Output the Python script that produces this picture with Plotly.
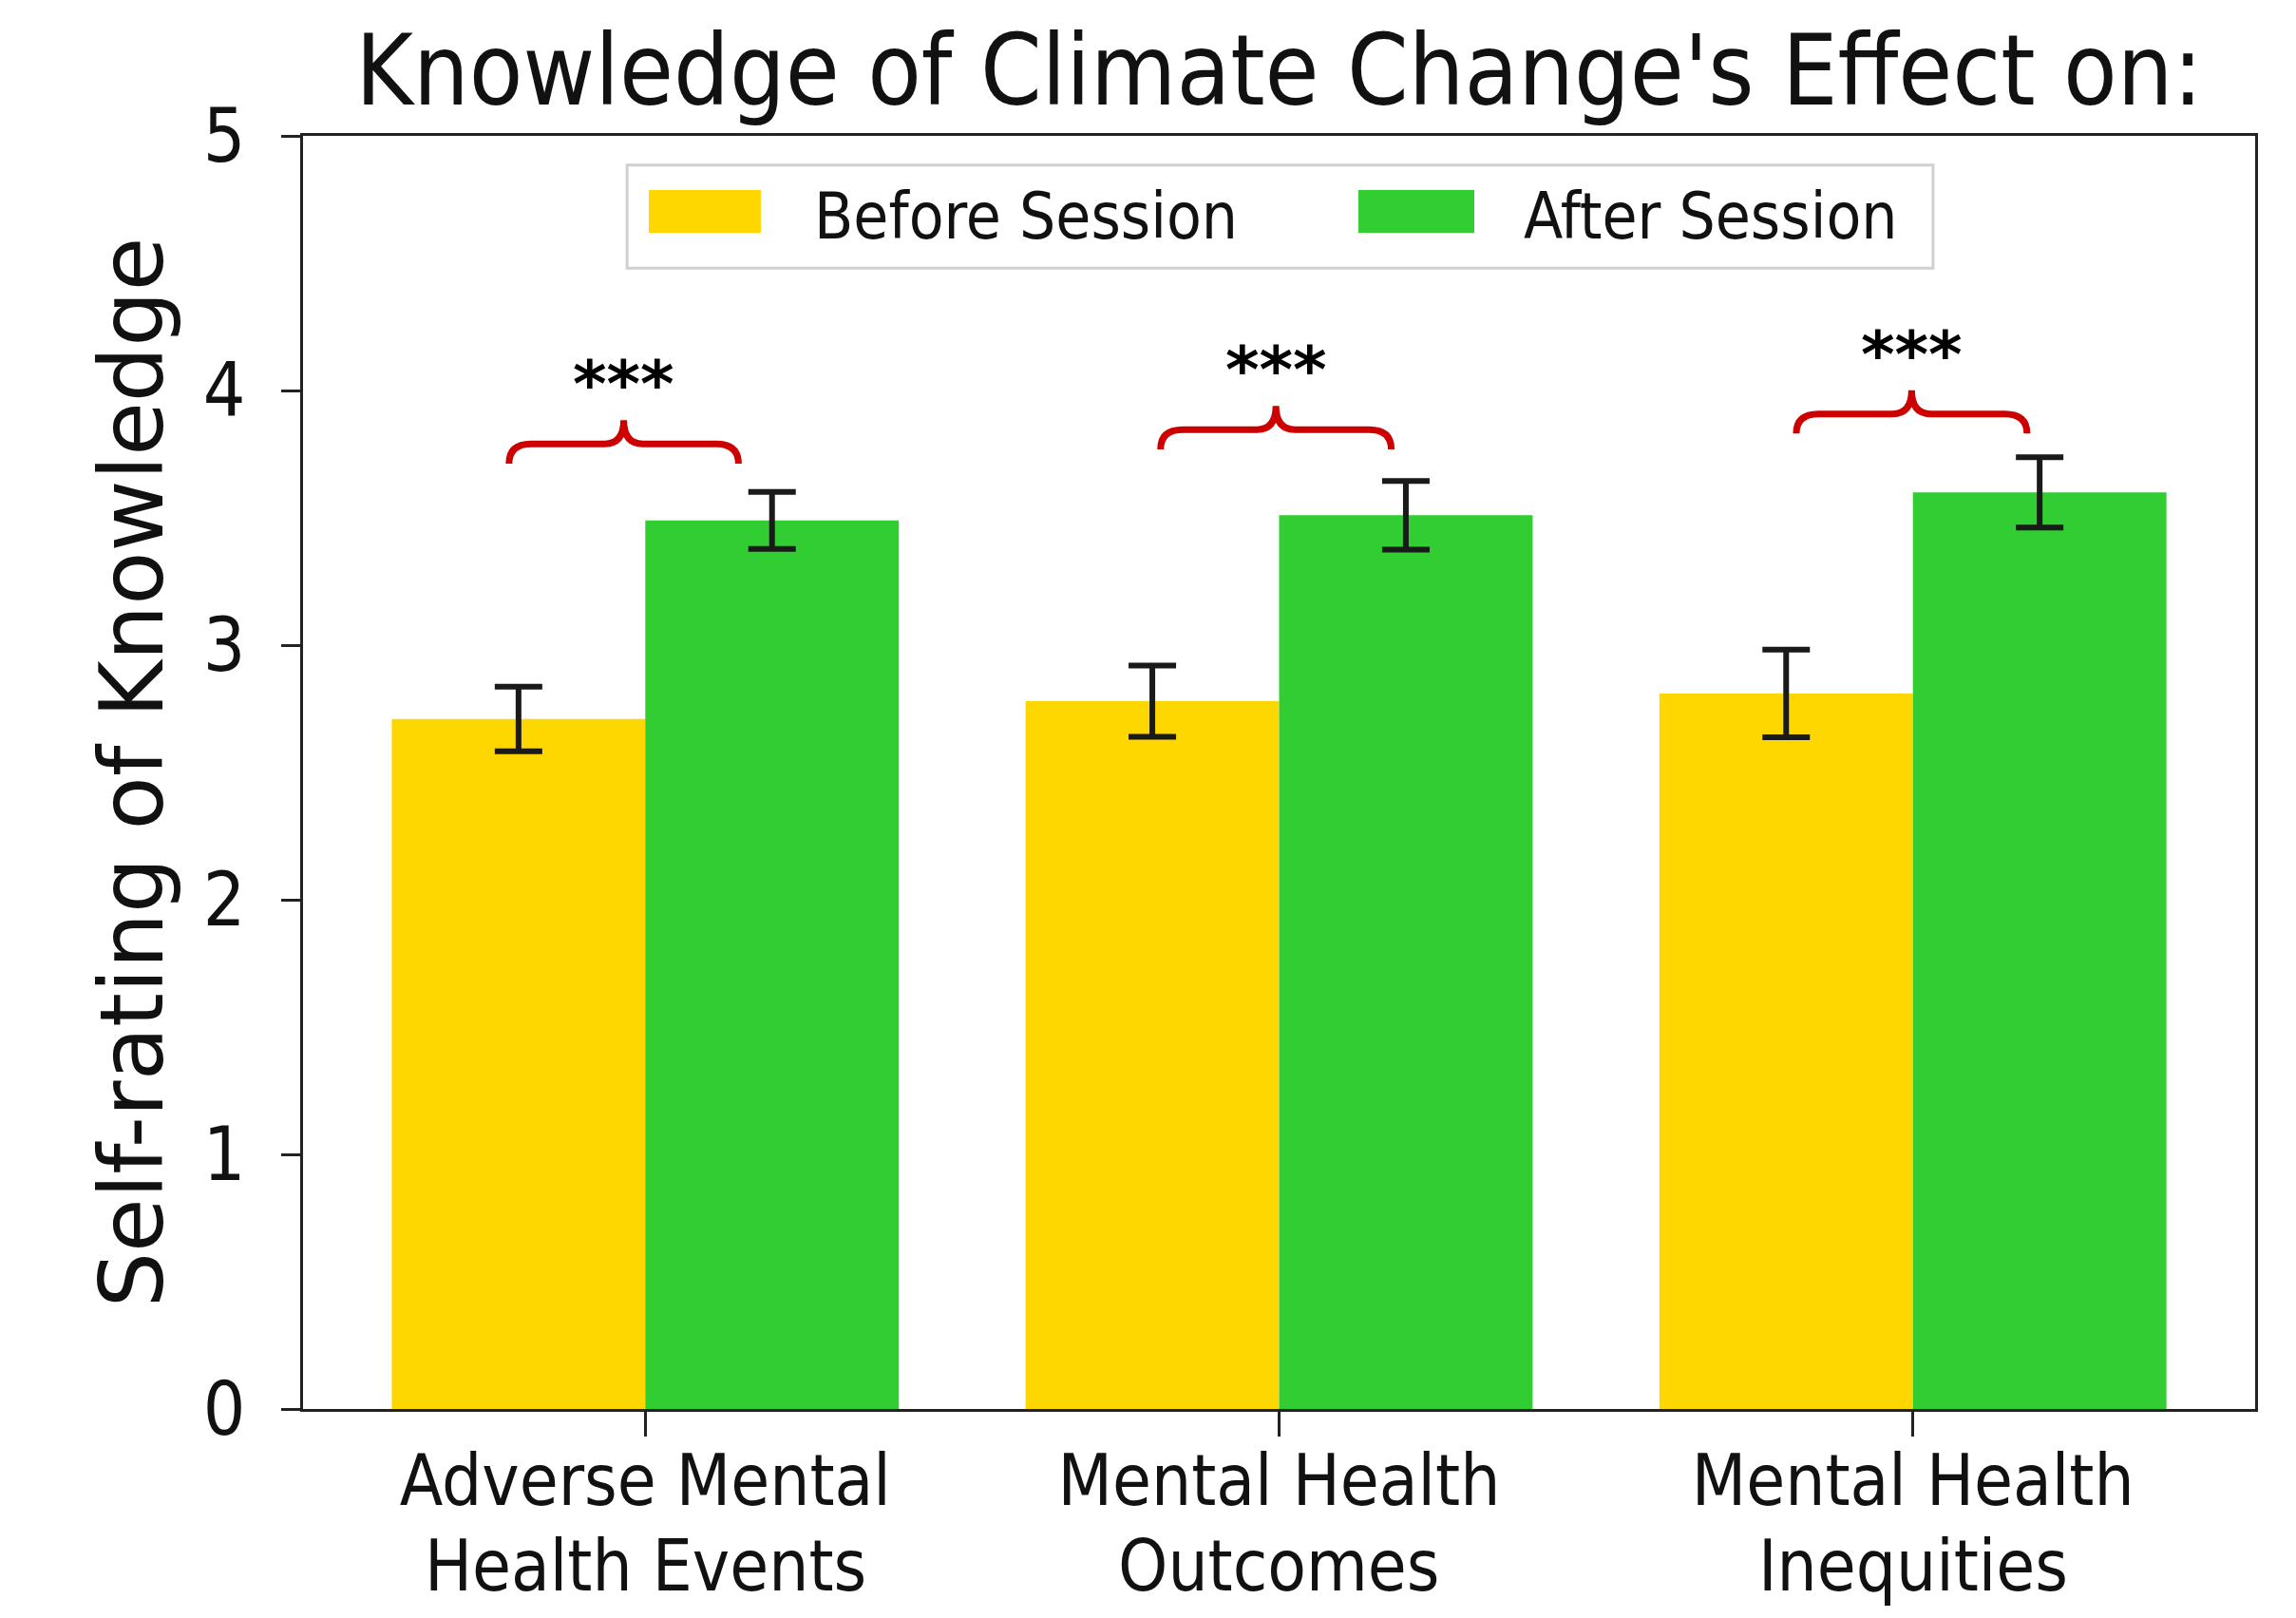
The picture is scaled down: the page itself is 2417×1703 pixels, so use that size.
import plotly.graph_objects as go

# ---------------- data ----------------
categories = ["Adverse Mental<br>Health Events", "Mental Health<br>Outcomes", "Mental Health<br>Inequities"]
cat_pos = [0, 1, 2]
series_names = ["Before Session", "After Session"]
before_vals = [2.71, 2.78, 2.81]
before_err = [0.127, 0.14, 0.172]
after_vals = [3.49, 3.51, 3.60]
after_err = [0.112, 0.135, 0.138]
y_ticks = [0, 1, 2, 3, 4, 5]
sig_labels = ["***", "***", "***"]
brace_left = [-0.215, 0.813, 1.816]
brace_right = [0.147, 1.177, 2.18]
brace_base = [3.713, 3.769, 3.831]

# ---------------- style ----------------
# page body has an 8px default margin, so the figure is 16px smaller than the window
W, H = 2401, 1687
ML, MR, MT, MB = 311, 35, 135, 212
FONT = "DejaVu Sans Condensed, DejaVu Sans, sans-serif"
FONT_N = "DejaVu Sans, sans-serif"
YELLOW = "#FFD700"
GREEN = "#32CD32"
RED = "#CC0000"
TICK_SIZE = 74

fig = go.Figure()
fig.add_trace(go.Bar(
    x=cat_pos, y=before_vals, name=series_names[0], marker=dict(color=YELLOW, line=dict(width=0)),
    error_y=dict(type="data", array=before_err, visible=True, color="#1a1a1a", thickness=6, width=25),
    showlegend=False))
fig.add_trace(go.Bar(
    x=cat_pos, y=after_vals, name=series_names[1], marker=dict(color=GREEN, line=dict(width=0)),
    error_y=dict(type="data", array=after_err, visible=True, color="#1a1a1a", thickness=6, width=25),
    showlegend=False))

# braces + significance stars
dx_corner = 0.035
dx_mid = 0.03
flat_off = 0.077
peak_off = 0.17
star_off = 0.31
for xl, xr, y0, lab in zip(brace_left, brace_right, brace_base, sig_labels):
    xc = (xl + xr) / 2
    y1 = y0 + flat_off
    y2 = y0 + peak_off
    path = (f"M {xl},{y0} Q {xl},{y1} {xl+dx_corner},{y1} L {xc-dx_mid},{y1} "
            f"Q {xc},{y1} {xc},{y2} Q {xc},{y1} {xc+dx_mid},{y1} "
            f"L {xr-dx_corner},{y1} Q {xr},{y1} {xr},{y0}")
    fig.add_shape(type="path", path=path, xref="x", yref="y",
                  line=dict(color=RED, width=7), layer="above")
    fig.add_annotation(x=xc, y=y0 + star_off, xref="x", yref="y", text=f"<b>{lab}</b>", showarrow=False,
                       font=dict(family=FONT_N, size=68, color="black"),
                       xanchor="center", yanchor="middle")

# category labels: first line as axis tick labels, second line placed with tighter leading
line1 = [c.split("<br>")[0] for c in categories]
line2 = [c.split("<br>")[1] for c in categories]
for xp, t in zip(cat_pos, line2):
    fig.add_annotation(x=xp, y=0, xref="x", yref="y", text=t, showarrow=False,
                       xanchor="center", yanchor="middle", yshift=-165,
                       font=dict(family=FONT, size=TICK_SIZE, color="#111"))

# custom legend (large swatches like the original)
fig.add_shape(type="rect", xref="paper", yref="paper", x0=0.166, x1=0.835, y0=0.896, y1=0.977,
              line=dict(color="#d0d0d0", width=3), fillcolor="white", layer="above")
legend_items = [(series_names[0], YELLOW, 0.1771, 0.2345, 0.2608),
                (series_names[1], GREEN, 0.5406, 0.6000, 0.6243)]
for name, col, sx0, sx1, tx in legend_items:
    fig.add_shape(type="rect", xref="paper", yref="paper", x0=sx0, x1=sx1, y0=0.9239, y1=0.9575,
                  line=dict(width=0), fillcolor=col, layer="above")
    fig.add_annotation(x=tx, y=0.9366, xref="paper", yref="paper", text=name, showarrow=False,
                       xanchor="left", yanchor="middle",
                       font=dict(family=FONT, size=67, color="#111"))

fig.update_layout(
    width=W, height=H,
    margin=dict(l=ML, r=MR, t=MT, b=MB, pad=0, autoexpand=False),
    paper_bgcolor="white", plot_bgcolor="white",
    barmode="group", bargap=0.2, bargroupgap=0,
    font=dict(family=FONT, color="#111"),
    title=dict(text="Knowledge of Climate Change's Effect on:", x=0.5, xref="paper",
               xanchor="center", y=0.961, yref="container", yanchor="middle",
               font=dict(family=FONT, size=103, color="#111"), automargin=False),
    showlegend=False,
)
fig.update_xaxes(
    range=[-0.54, 2.54], tickmode="array", tickvals=cat_pos, ticktext=line1,
    showline=True, linecolor="#222", linewidth=3, mirror=True,
    ticks="outside", ticklen=26, tickwidth=2.5, tickcolor="#222",
    tickfont=dict(family=FONT, size=TICK_SIZE, color="#111"), ticklabelstandoff=-17,
    showgrid=False, zeroline=False, automargin=False)
fig.update_yaxes(
    range=[0, 5], tickmode="array", tickvals=y_ticks,
    showline=True, linecolor="#222", linewidth=3, mirror=True,
    ticks="outside", ticklen=20, tickwidth=2.5, tickcolor="#222",
    tickfont=dict(family=FONT, size=78, color="#111"), ticklabelstandoff=22,
    title=dict(text="Self-rating of Knowledge", standoff=12,
               font=dict(family=FONT_N, size=92, color="#111")),
    showgrid=False, zeroline=False, automargin=False)

fig.write_html("out.html")
